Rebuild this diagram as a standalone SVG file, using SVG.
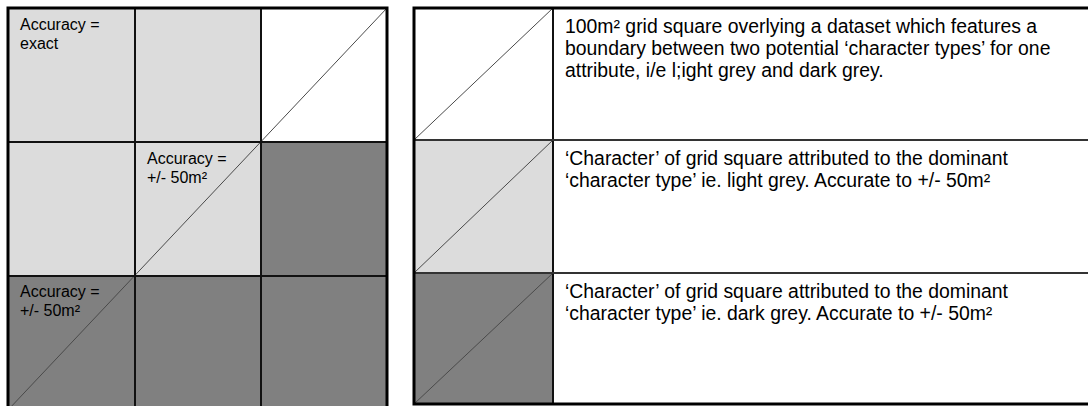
<svg xmlns="http://www.w3.org/2000/svg" width="1088" height="406" viewBox="0 0 1088 406">
<style>
.light{fill:#dcdcdc}
.dark{fill:#808080}
.white{fill:#ffffff}
.diag{stroke:#4a4a4a;stroke-width:1;fill:none}
.inner{stroke:#111;stroke-width:2;fill:none}
.outer{stroke:#000;stroke-width:3;fill:none}
.lbl{font-family:"Liberation Sans",Arial,sans-serif;font-size:16px;fill:#000}
.desc{font-family:"Liberation Sans",Arial,sans-serif;font-size:19.4px;fill:#000}
</style>
<rect width="1088" height="406" fill="#ffffff"/>
<g id="grid">
  <g id="cell-r1c1"><rect class="light" x="8" y="8" width="127" height="134"/>
    <text class="lbl" x="20" y="30">Accuracy =</text><text class="lbl" x="20" y="48.5">exact</text></g>
  <g id="cell-r1c2"><rect class="light" x="135" y="8" width="126" height="134"/></g>
  <g id="cell-r1c3"><rect class="white" x="261" y="8" width="126" height="134"/></g>
  <g id="cell-r2c1"><rect class="light" x="8" y="142" width="127" height="134"/></g>
  <g id="cell-r2c2"><rect class="light" x="135" y="142" width="126" height="134"/></g>
  <g id="cell-r2c3"><rect class="dark" x="261" y="142" width="126" height="134"/></g>
  <g id="cell-r3c1"><rect class="dark" x="8" y="276" width="127" height="134"/></g>
  <g id="cell-r3c2"><rect class="dark" x="135" y="276" width="126" height="134"/></g>
  <g id="cell-r3c3"><rect class="dark" x="261" y="276" width="126" height="134"/></g>
</g>
<g id="legend">
  <g id="legend-row1"><rect class="white" x="414" y="8" width="139" height="132"/></g>
  <g id="legend-row2"><rect class="light" x="414" y="140" width="139" height="133"/></g>
  <g id="legend-row3"><rect class="dark" x="414" y="273" width="139" height="131"/></g>
</g>
<g id="connectors">
  <line class="diag" x1="8" y1="410" x2="387" y2="8"/>
  <line class="diag" x1="414" y1="140" x2="553" y2="8"/>
  <line class="diag" x1="414" y1="273" x2="553" y2="140"/>
  <line class="diag" x1="414" y1="404" x2="553" y2="273"/>
</g>
<g id="lines">
  <line class="inner" x1="135" y1="8" x2="135" y2="410"/>
  <line class="inner" x1="261" y1="8" x2="261" y2="410"/>
  <line class="inner" x1="8" y1="142" x2="387" y2="142"/>
  <line class="inner" x1="8" y1="276" x2="387" y2="276"/>
  <rect class="outer" x="8" y="8" width="379" height="410"/>
  <line class="inner" x1="553" y1="8" x2="553" y2="404"/>
  <line class="inner" x1="414" y1="140" x2="1090" y2="140" style="stroke:#333"/>
  <line class="inner" x1="414" y1="273" x2="1090" y2="273" style="stroke:#333"/>
  <rect class="outer" x="414" y="8" width="690" height="396"/>
</g>
<g id="labels">
  <text class="lbl" x="147" y="164">Accuracy =</text><text class="lbl" x="147" y="182.5">+/- 50m²</text>
  <text class="lbl" x="20" y="297">Accuracy =</text><text class="lbl" x="20" y="315.5">+/- 50m²</text>
  <text class="desc" x="565" y="33">100m² grid square overlying a dataset which features a</text>
  <text class="desc" x="565" y="55">boundary between two potential ‘character types’ for one</text>
  <text class="desc" x="565" y="77">attribute, i/e l;ight grey and dark grey.</text>
  <text class="desc" x="565" y="165">‘Character’ of grid square attributed to the dominant</text>
  <text class="desc" x="565" y="187">‘character type’ ie. light grey. Accurate to +/- 50m²</text>
  <text class="desc" x="565" y="298">‘Character’ of grid square attributed to the dominant</text>
  <text class="desc" x="565" y="320">‘character type’ ie. dark grey. Accurate to +/- 50m²</text>
</g>
</svg>
